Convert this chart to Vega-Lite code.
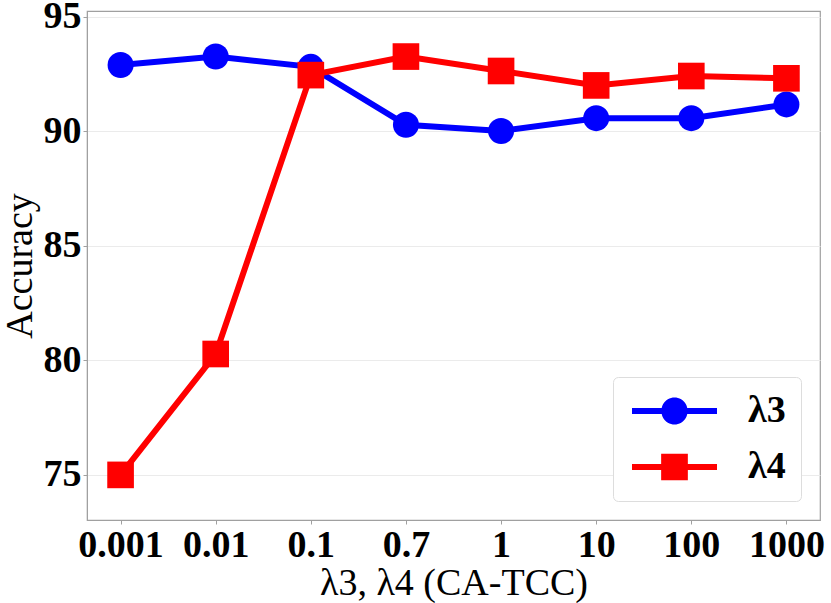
{
  "$schema": "https://vega.github.io/schema/vega-lite/v6.json",
  "width": 733,
  "height": 509,
  "autosize": "none",
  "padding": {"left": 87, "top": 11, "right": 11, "bottom": 83},
  "background": "white",
  "config": {
    "view": {"stroke": "#a0a0a0", "strokeWidth": 1.2},
    "axis": {
      "labelFont": "Liberation Serif",
      "labelFontWeight": "bold",
      "labelFontSize": 38,
      "labelColor": "black",
      "titleFont": "Liberation Serif",
      "titleFontWeight": "normal",
      "titleFontSize": 38,
      "titleColor": "black",
      "domainColor": "#a0a0a0",
      "tickColor": "#a0a0a0",
      "tickSize": 4,
      "labelPadding": 2
    },
    "legend": {
      "labelFont": "Liberation Serif",
      "labelFontWeight": "bold",
      "labelFontSize": 38,
      "labelColor": "black"
    }
  },
  "data": {
    "values": [
      {"lambda": "0.001", "series": "λ3", "acc": 92.9},
      {"lambda": "0.01", "series": "λ3", "acc": 93.27},
      {"lambda": "0.1", "series": "λ3", "acc": 92.82},
      {"lambda": "0.7", "series": "λ3", "acc": 90.29},
      {"lambda": "1", "series": "λ3", "acc": 90.02},
      {"lambda": "10", "series": "λ3", "acc": 90.58},
      {"lambda": "100", "series": "λ3", "acc": 90.58},
      {"lambda": "1000", "series": "λ3", "acc": 91.18},
      {"lambda": "0.001", "series": "λ4", "acc": 75.0},
      {"lambda": "0.01", "series": "λ4", "acc": 80.28},
      {"lambda": "0.1", "series": "λ4", "acc": 92.46},
      {"lambda": "0.7", "series": "λ4", "acc": 93.27},
      {"lambda": "1", "series": "λ4", "acc": 92.64},
      {"lambda": "10", "series": "λ4", "acc": 92.01},
      {"lambda": "100", "series": "λ4", "acc": 92.42},
      {"lambda": "1000", "series": "λ4", "acc": 92.32}
    ]
  },
  "encoding": {
    "x": {
      "field": "lambda",
      "type": "nominal",
      "sort": ["0.001", "0.01", "0.1", "0.7", "1", "10", "100", "1000"],
      "scale": {"type": "point", "padding": 0.353},
      "axis": {"labelAngle": 0, "grid": false, "titlePadding": 0},
      "title": "λ3, λ4 (CA-TCC)"
    },
    "y": {
      "field": "acc",
      "type": "quantitative",
      "scale": {"domain": [73.03, 95.26], "nice": false, "zero": false},
      "axis": {
        "values": [75, 80, 85, 90, 95],
        "grid": true,
        "gridColor": "#ebebeb",
        "titlePadding": 4
      },
      "title": "Accuracy"
    }
  },
  "layer": [
    {
      "transform": [{"filter": "datum.series === 'λ3'"}],
      "mark": {
        "type": "line",
        "color": "#0000ff",
        "strokeWidth": 6,
        "point": {"shape": "circle", "size": 676, "filled": true, "opacity": 1, "color": "#0000ff"}
      }
    },
    {
      "transform": [{"filter": "datum.series === 'λ4'"}],
      "mark": {
        "type": "line",
        "color": "#ff0000",
        "strokeWidth": 6,
        "point": {"shape": "square", "size": 710, "filled": true, "opacity": 1, "color": "#ff0000"}
      }
    },
    {
      "mark": {"type": "point", "filled": true, "opacity": 0, "size": 900},
      "encoding": {
        "color": {
          "field": "series",
          "type": "nominal",
          "scale": {"domain": ["λ3", "λ4"], "range": ["#0000ff", "#ff0000"]},
          "legend": {
            "title": null,
            "orient": "bottom-right",
            "offset": 19,
            "padding": 15,
            "rowPadding": 18,
            "symbolSize": 900,
            "symbolOpacity": 1,
            "labelOffset": 82,
            "fillColor": "white",
            "strokeColor": "#dddddd",
            "cornerRadius": 5
          }
        },
        "shape": {
          "field": "series",
          "type": "nominal",
          "scale": {
            "domain": ["λ3", "λ4"],
            "range": [
              "M-1,-0.2H4.667V0.2H-1Z M2.7,0A0.867,0.867 0 1,1 0.967,0A0.867,0.867 0 1,1 2.7,0Z",
              "M-1,-0.2H4.667V0.2H-1Z M0.943,-0.89H2.723V0.89H0.943Z"
            ]
          },
          "legend": {
            "title": null,
            "orient": "bottom-right",
            "offset": 19,
            "padding": 15,
            "rowPadding": 18,
            "symbolSize": 900,
            "symbolOpacity": 1,
            "labelOffset": 82,
            "fillColor": "white",
            "strokeColor": "#dddddd",
            "cornerRadius": 5
          }
        }
      }
    }
  ]
}
